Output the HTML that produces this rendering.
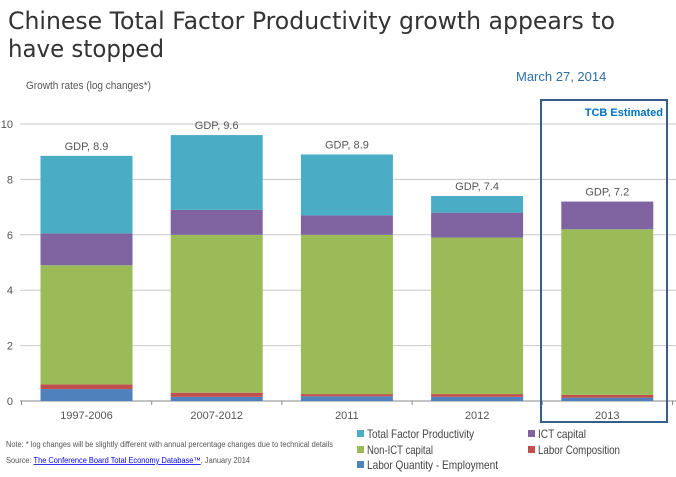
<!DOCTYPE html>
<html><head><meta charset="utf-8"><style>
body{margin:0;background:#fff;width:676px;height:472px;overflow:hidden;font-family:"Liberation Sans",sans-serif}
</style></head><body>
<svg width="676" height="472" xmlns="http://www.w3.org/2000/svg">
<text x="8" y="29" font-size="24" fill="#333" font-family="DejaVu Sans, sans-serif" textLength="607" lengthAdjust="spacingAndGlyphs">Chinese Total Factor Productivity growth appears to</text>
<text x="8" y="57" font-size="24" fill="#333" font-family="DejaVu Sans, sans-serif" textLength="156" lengthAdjust="spacingAndGlyphs">have stopped</text>
<text x="26" y="89" font-size="11" fill="#555" textLength="125" lengthAdjust="spacingAndGlyphs">Growth rates (log changes*)</text>
<text x="516" y="81" font-size="13" fill="#2f6ea8">March 27, 2014</text>
<g id="grid"></g>
<g id="bars"></g>
<rect x="541" y="100" width="126" height="322" fill="none" stroke="#385d8a" stroke-width="2"/>
<text x="663" y="116" font-size="11" font-weight="bold" fill="#0070c0" text-anchor="end">TCB Estimated</text>
<text x="6" y="447" font-size="8" fill="#555" textLength="327" lengthAdjust="spacingAndGlyphs">Note: * log changes will be slightly different with annual percentage changes due to technical  details</text>
<text x="6" y="463" font-size="8" fill="#555" textLength="244" lengthAdjust="spacingAndGlyphs">Source: <tspan fill="#0000ee" text-decoration="underline">The Conference Board Total Economy Database™</tspan>, January 2014</text>
<g id="legend"></g>
</svg>
<script>
const categories=["1997-2006","2007-2012","2011","2012","2013"];
const laborQty=[0.43,0.15,0.17,0.15,0.12];
const laborComp=[0.17,0.15,0.08,0.1,0.1];
const nonICT=[4.3,5.7,5.75,5.65,5.98];
const ictCap=[1.15,0.9,0.7,0.9,1.0];
const tfp=[2.8,2.7,2.2,0.6,0];
const gdpLabels=["GDP, 8.9","GDP, 9.6","GDP, 8.9","GDP, 7.4","GDP, 7.2"];
const yTicks=[0,2,4,6,8,10];
const seriesNames=["Labor Quantity - Employment","Labor Composition","Non-ICT capital","ICT capital","Total Factor Productivity"];
const NS="http://www.w3.org/2000/svg";
const y0=401,pxu=27.7;
const y=v=>y0-v*pxu;
const xc=i=>86.5+i*130.2;
const colors=["#4f81bd","#c0504d","#9bbb59","#8064a2","#4bacc6"];
const series=[laborQty,laborComp,nonICT,ictCap,tfp];
function mk(tag,attrs,parent){const e=document.createElementNS(NS,tag);for(const k in attrs)e.setAttribute(k,attrs[k]);parent.appendChild(e);return e;}
const grid=document.getElementById('grid');
yTicks.forEach(t=>{
 const l=mk('line',{x1:20,x2:676,y1:y(t),y2:y(t),stroke:t===0?'#888':'#c8c8c8','stroke-width':1},grid);
 
 
 const tx=mk('text',{x:13,y:y(t)+4,'font-size':11,fill:'#555','text-anchor':'end'},grid);
 tx.textContent=t;
 
 
});
for(let i=0;i<=categories.length;i++){
 const tk=mk('line',{x1:21.5+i*130.2,x2:21.5+i*130.2,y1:401,y2:405,stroke:'#888'},grid);
 
 
}
const bars=document.getElementById('bars');
categories.forEach((c,i)=>{
 let cum=0;
 series.forEach((s,j)=>{
  const v=s[i];if(v<=0)return;
  const r=mk('rect',{x:xc(i)-46,width:92,y:y(cum+v),height:v*pxu,fill:colors[j]},bars);
  
  
  cum+=v;
 });
 const g=mk('text',{x:xc(i),y:y(cum)-6,'font-size':11,fill:'#555','text-anchor':'middle'},bars);
 g.textContent=gdpLabels[i];
 
 
 const xl=mk('text',{x:xc(i),y:419,'font-size':11,fill:'#555','text-anchor':'middle'},bars);
 xl.textContent=c;
 
 
});
const leg=document.getElementById('legend');
const lp=[[4,357,439,107],[3,528,439,48],[2,357,455,66],[1,528,455,82],[0,357,470,131]];
lp.forEach(([j,x,yy,w])=>{
 const r=mk('rect',{x:x,y:yy-9,width:7,height:7,fill:colors[j]},leg);
 
 
 const t=mk('text',{x:x+10,y:yy-1,'font-size':12,fill:'#444',textLength:w,lengthAdjust:'spacingAndGlyphs'},leg);
 t.textContent=seriesNames[j];
 
 
});
</script>
</body></html>
